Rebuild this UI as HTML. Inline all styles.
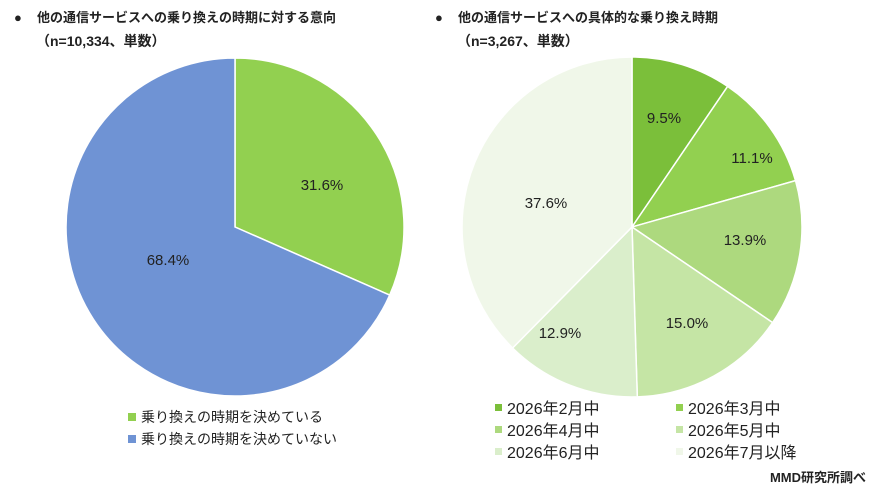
<!DOCTYPE html>
<html><head><meta charset="utf-8"><style>
body{margin:0;background:#fff}
svg text{font-family:"Liberation Sans","Noto Sans CJK JP",sans-serif;fill:#222}
</style></head><body>
<svg width="873" height="496" viewBox="0 0 873 496" xmlns="http://www.w3.org/2000/svg">
<rect width="873" height="496" fill="#fff"/>
<g font-size="13" font-weight="bold">
<text x="14" y="22">●</text><text x="37" y="22">他の通信サービスへの乗り換えの時期に対する意向</text>
<text x="36" y="46" font-size="14">（n=10,334、単数）</text>
<text x="435" y="22">●</text><text x="458" y="22">他の通信サービスへの具体的な乗り換え時期</text>
<text x="457" y="46" font-size="14">（n=3,267、単数）</text>
</g>
<g stroke="#fff" stroke-width="1.5">
<path d="M235,227 L235,58 A169,169 0 0 1 389.7,295.1 Z" fill="#92d050"/>
<path d="M235,227 L389.7,295.1 A169,169 0 1 1 235,58 Z" fill="#6f93d4"/>
<path d="M632,227 L632,57 A170,170 0 0 1 727.6,86.4 Z" fill="#7bbf3a"/>
<path d="M632,227 L727.6,86.4 A170,170 0 0 1 795.5,180.6 Z" fill="#92d050"/>
<path d="M632,227 L795.5,180.6 A170,170 0 0 1 772.6,322.6 Z" fill="#add97e"/>
<path d="M632,227 L772.6,322.6 A170,170 0 0 1 637.3,396.9 Z" fill="#c5e5a5"/>
<path d="M632,227 L637.3,396.9 A170,170 0 0 1 512.6,348 Z" fill="#daeecb"/>
<path d="M632,227 L512.6,348 A170,170 0 0 1 632,57 Z" fill="#f0f7e9"/>
</g>
<g font-size="15" text-anchor="middle">
<text x="322" y="190">31.6%</text><text x="168" y="265">68.4%</text>
<text x="664" y="123">9.5%</text><text x="752" y="163">11.1%</text>
<text x="745" y="245">13.9%</text><text x="687" y="328">15.0%</text>
<text x="560" y="338">12.9%</text><text x="546" y="208">37.6%</text>
</g>
<g font-size="14">
<rect x="128" y="413" width="8" height="8" fill="#92d050"/><text x="141" y="422">乗り換えの時期を決めている</text>
<rect x="128" y="435" width="8" height="8" fill="#6f93d4"/><text x="141" y="444">乗り換えの時期を決めていない</text>
</g>
<g font-size="16">
<rect x="495" y="404" width="7" height="7" fill="#7bbf3a"/><text x="507" y="414">2026年2月中</text>
<rect x="676" y="404" width="7" height="7" fill="#92d050"/><text x="688" y="414">2026年3月中</text>
<rect x="495" y="426" width="7" height="7" fill="#add97e"/><text x="507" y="436">2026年4月中</text>
<rect x="676" y="426" width="7" height="7" fill="#c5e5a5"/><text x="688" y="436">2026年5月中</text>
<rect x="495" y="448" width="7" height="7" fill="#daeecb"/><text x="507" y="458">2026年6月中</text>
<rect x="676" y="448" width="7" height="7" fill="#f0f7e9"/><text x="688" y="458">2026年7月以降</text>
</g>
<text x="866" y="482" font-size="13" font-weight="bold" text-anchor="end">MMD研究所調べ</text>
</svg>
</body></html>
